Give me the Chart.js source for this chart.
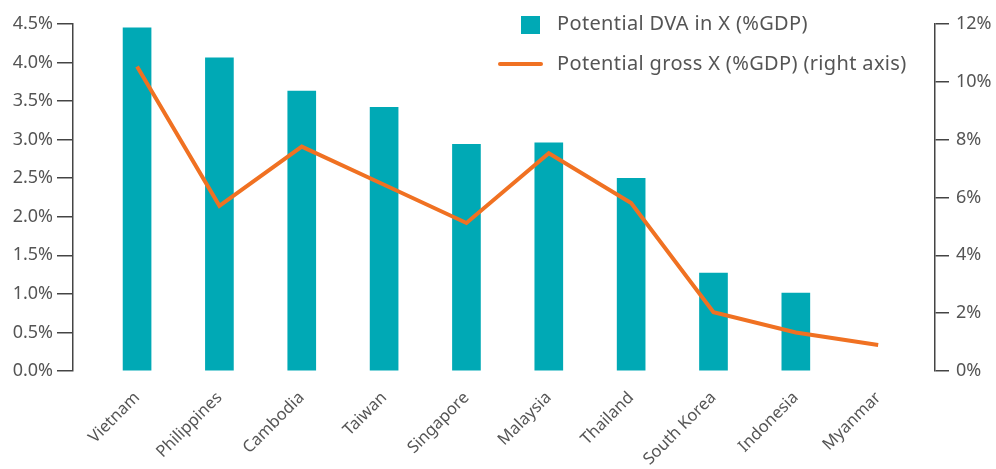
<!DOCTYPE html>
<html>
<head>
<meta charset="utf-8">
<script src="https://cdn.jsdelivr.net/npm/chart.js@4.4.1/dist/chart.umd.min.js"></script>
<style>
    body { margin: 0; background: #fff; }
    #wrap { position: relative; width: 996px; height: 469px; }
    .legend-item {
        position: absolute;
        font-family: "Noto Sans", sans-serif;
        font-size: 20px;
        letter-spacing: 0.35px;
        color: #555;
        white-space: nowrap;
        line-height: 22px;
    }
    .swatch-bar { position: absolute; left: 521px; top: 16px; width: 19px; height: 18px; background: #00A9B5; }
    .swatch-line { position: absolute; left: 498px; top: 62px; width: 45px; height: 4px; border-radius: 2px; background: #F07122; }
</style>
</head>
<body>
<div id="wrap">
    <canvas id="chart" width="996" height="469"></canvas>
    <div class="swatch-bar"></div>
    <div class="legend-item" style="left:557px; top:12px;">Potential DVA in X (%GDP)</div>
    <div class="swatch-line"></div>
    <div class="legend-item" style="left:557px; top:52px;">Potential gross X (%GDP) (right axis)</div>
</div>
<script>
// Chart values (Myanmar has no DVA bar)
const categories = ['Vietnam', 'Philippines', 'Cambodia', 'Taiwan', 'Singapore', 'Malaysia', 'Thailand', 'South Korea', 'Indonesia', 'Myanmar'];
const dvaValues = [4.45, 4.06, 3.63, 3.42, 2.94, 2.96, 2.50, 1.27, 1.01, null];
const grossValues = [10.53, 5.71, 7.76, 6.44, 5.12, 7.53, 5.81, 2.03, 1.33, 0.90];
const leftTicks = [0, 0.5, 1, 1.5, 2, 2.5, 3, 3.5, 4, 4.5];
const rightTicks = [0, 2, 4, 6, 8, 10, 12];

const barColor = '#00A9B5';
const lineColor = '#F07122';
const textColor = '#555';
const axisColor = '#444';

const toPoints = (values) => values.map((v, i) => ({ x: i, y: v }));

new Chart(document.getElementById('chart'), {
    type: 'bar',
    data: {
        datasets: [
            {
                type: 'line',
                label: 'Potential gross X (%GDP) (right axis)',
                data: toPoints(grossValues),
                yAxisID: 'y1',
                borderColor: lineColor,
                borderWidth: 4,
                pointRadius: 0,
                tension: 0,
                order: 0,
            },
            {
                type: 'bar',
                label: 'Potential DVA in X (%GDP)',
                data: toPoints(dvaValues),
                yAxisID: 'y',
                backgroundColor: barColor,
                barThickness: 28,
                order: 1,
            },
        ],
    },
    options: {
        responsive: false,
        animation: false,
        layout: { padding: { top: 24, left: 0, right: 0, bottom: 0 } },
        plugins: {
            legend: { display: false },
            tooltip: { enabled: false },
        },
        scales: {
            x: {
                type: 'linear',
                offset: false,
                min: -0.778,
                max: 9.69,
                grid: { display: false, drawTicks: false },
                border: { display: false },
                afterBuildTicks: (scale) => {
                    scale.ticks = categories.map((c, i) => ({ value: i }));
                },
                afterFit: (scale) => { scale.height = 98; },
                ticks: {
                    autoSkip: false,
                    maxRotation: 45,
                    minRotation: 45,
                    padding: 17,
                    color: textColor,
                    font: { family: 'Noto Sans', size: 16.5 },
                    callback: (v) => categories[v] ?? '',
                },
            },
            y: {
                position: 'left',
                min: 0,
                max: 4.5,
                afterBuildTicks: (scale) => {
                    scale.ticks = leftTicks.map((v) => ({ value: v }));
                },
                afterFit: (scale) => { scale.width = 73; },
                grid: { drawOnChartArea: false, drawTicks: true, tickLength: 16, color: axisColor, lineWidth: 1.5 },
                border: { display: true, color: axisColor, width: 1.5 },
                ticks: {
                    padding: 4,
                    color: textColor,
                    font: { family: 'Noto Sans', size: 18 },
                    callback: (v) => v.toFixed(1) + '%',
                },
            },
            y1: {
                position: 'right',
                min: 0,
                max: 12,
                afterBuildTicks: (scale) => {
                    scale.ticks = rightTicks.map((v) => ({ value: v }));
                },
                afterFit: (scale) => { scale.width = 61; },
                grid: { drawOnChartArea: false, drawTicks: true, tickLength: 14, color: axisColor, lineWidth: 1.5 },
                border: { display: true, color: axisColor, width: 1.5 },
                ticks: {
                    padding: 7,
                    color: textColor,
                    font: { family: 'Noto Sans', size: 18 },
                    callback: (v) => v + '%',
                },
            },
        },
    },
});
</script>
</body>
</html>
